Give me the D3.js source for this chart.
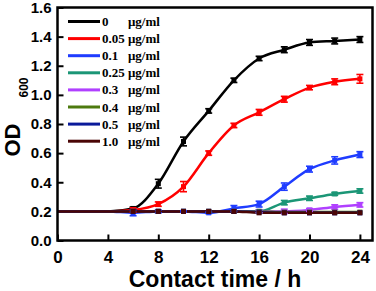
<!DOCTYPE html>
<html>
<head>
  <script src="https://d3js.org/d3.v7.min.js"></script>
  <style>
    body { margin: 0; background: #fff; }
    .tick-label { font-family: Arial, "Liberation Sans", sans-serif; font-weight: bold; }
    .legend-text { font-family: "Liberation Serif", "Times New Roman", serif; font-weight: bold; font-size: 13px; }
  </style>
</head>
<body>
  <script>
    // time points (h)
    var times = [0, 2, 4, 6, 8, 10, 12, 14, 16, 18, 20, 22, 24];

    // concentrations for the legend
    var concLabels = ["0", "0.05", "0.1", "0.25", "0.3", "0.4", "0.5", "1.0"];
    var colors = ["#000000", "#ff0000", "#1f3cff", "#1b9676", "#b040ff", "#4d7a0f", "#0a1a9a", "#4a0505"];

    // OD600 values
    var od0   = [0.20, 0.20, 0.20, 0.22, 0.39, 0.68, 0.89, 1.10, 1.25, 1.31, 1.36, 1.37, 1.38];
    var od005 = [0.20, 0.20, 0.20, 0.21, 0.25, 0.37, 0.60, 0.79, 0.88, 0.97, 1.05, 1.09, 1.11];
    var od01  = [0.20, 0.20, 0.20, 0.19, 0.20, 0.20, 0.19, 0.22, 0.25, 0.37, 0.49, 0.55, 0.59];
    var od025 = [0.20, 0.20, 0.20, 0.20, 0.20, 0.20, 0.20, 0.20, 0.20, 0.26, 0.29, 0.32, 0.34];
    var od03  = [0.20, 0.20, 0.20, 0.20, 0.20, 0.20, 0.20, 0.20, 0.20, 0.20, 0.21, 0.23, 0.245];
    var od04  = [0.20, 0.20, 0.20, 0.20, 0.20, 0.20, 0.20, 0.20, 0.20, 0.195, 0.195, 0.195, 0.195];
    var od05  = [0.20, 0.20, 0.20, 0.20, 0.20, 0.20, 0.20, 0.20, 0.195, 0.19, 0.19, 0.19, 0.19];
    var od10  = [0.20, 0.20, 0.20, 0.20, 0.20, 0.20, 0.20, 0.20, 0.19, 0.19, 0.19, 0.19, 0.19];

    // error bar half-widths
    var err0   = [0, 0, 0, 0.01, 0.03, 0.03, 0.015, 0.015, 0.015, 0.02, 0.02, 0.02, 0.02];
    var err005 = [0, 0, 0, 0.015, 0.015, 0.035, 0.015, 0.015, 0.02, 0.02, 0.015, 0.02, 0.03];
    var err01  = [0, 0, 0, 0.02, 0.01, 0.005, 0.005, 0.02, 0.02, 0.025, 0.02, 0.025, 0.02];
    var err025 = [0, 0, 0, 0, 0, 0, 0, 0, 0.01, 0.015, 0.015, 0.01, 0.015];
    var err03  = [0, 0, 0, 0, 0, 0, 0, 0, 0.01, 0.015, 0.01, 0.015, 0.015];
    var err04  = [0, 0, 0, 0, 0, 0, 0, 0, 0, 0, 0, 0, 0];
    var err05  = [0, 0, 0, 0, 0, 0, 0, 0, 0, 0, 0, 0, 0];
    var err10  = [0, 0, 0, 0, 0, 0, 0, 0, 0, 0, 0, 0, 0];

    var xTicks = [0, 4, 8, 12, 16, 20, 24];
    var yTicks = [0, 0.2, 0.4, 0.6, 0.8, 1.0, 1.2, 1.4, 1.6];

    var seriesVals = [od0, od005, od01, od025, od03, od04, od05, od10];
    var seriesErr = [err0, err005, err01, err025, err03, err04, err05, err10];

    var W = 376, H = 291;
    var mLeft = 57.5, mRight = 372.5, mTop = 7.5, mBottom = 240.5;

    var svg = d3.select("body").append("svg")
      .attr("width", W)
      .attr("height", H);

    var x = d3.scaleLinear().domain([0, 25]).range([mLeft, mRight]);
    var y = d3.scaleLinear().domain([0, 1.6]).range([mBottom, mTop]);

    // ticks (inward)
    var xAxis = svg.append("g").attr("transform", "translate(0," + mBottom + ")")
      .call(d3.axisBottom(x).tickValues(xTicks).tickSize(-6).tickPadding(8).tickFormat(d3.format("d")));
    xAxis.select(".domain").remove();
    xAxis.selectAll("line").attr("stroke", "#000").attr("stroke-width", 2);
    xAxis.selectAll("text").attr("class", "tick-label").style("font-size", "17px").attr("fill", "#000").attr("dy", "0.85em");

    var yAxis = svg.append("g").attr("transform", "translate(" + mLeft + ",0)")
      .call(d3.axisLeft(y).tickValues(yTicks).tickSize(-6).tickPadding(6).tickFormat(d3.format(".1f")));
    yAxis.select(".domain").remove();
    yAxis.selectAll("line").attr("stroke", "#000").attr("stroke-width", 2);
    yAxis.selectAll("text").attr("class", "tick-label").style("font-size", "15px").attr("fill", "#000");

    // series
    var line = d3.line()
      .x(function(d) { return x(d[0]); })
      .y(function(d) { return y(d[1]); })
      .curve(d3.curveMonotoneX);

    seriesVals.forEach(function(vals, i) {
      var pts = times.map(function(t, k) { return [t, vals[k]]; });
      svg.append("path")
        .attr("d", line(pts))
        .attr("fill", "none")
        .attr("stroke", colors[i])
        .attr("stroke-width", 2.5);
    });

    seriesVals.forEach(function(vals, i) {
      var g = svg.append("g").attr("stroke", colors[i]).attr("fill", colors[i]);
      times.forEach(function(t, k) {
        if (t < 6) return;
        var e = seriesErr[i][k];
        if (e > 0) {
          g.append("line").attr("x1", x(t)).attr("x2", x(t))
            .attr("y1", y(vals[k] - e)).attr("y2", y(vals[k] + e)).attr("stroke-width", 1.6);
          [vals[k] - e, vals[k] + e].forEach(function(v) {
            g.append("line").attr("x1", x(t) - 3.5).attr("x2", x(t) + 3.5)
              .attr("y1", y(v)).attr("y2", y(v)).attr("stroke-width", 1.6);
          });
        }
        g.append("rect")
          .attr("x", x(t) - 2.5).attr("y", y(vals[k]) - 2.5)
          .attr("width", 5).attr("height", 5)
          .attr("stroke", "none");
      });
    });

    // frame
    svg.append("rect")
      .attr("x", mLeft).attr("y", mTop)
      .attr("width", mRight - mLeft).attr("height", mBottom - mTop)
      .attr("fill", "none").attr("stroke", "#000").attr("stroke-width", 2.5);

    // legend
    var legend = svg.append("g");
    concLabels.forEach(function(lab, i) {
      var ly = 21.5 + i * 17.1;
      legend.append("line")
        .attr("x1", 68).attr("x2", 100)
        .attr("y1", ly).attr("y2", ly)
        .attr("stroke", colors[i]).attr("stroke-width", 3);
      legend.append("text").attr("class", "legend-text")
        .attr("x", 102).attr("y", ly + 4.5).text(lab);
      legend.append("text").attr("class", "legend-text")
        .attr("x", 128).attr("y", ly + 4.5).text("\u03bcg/ml");
    });

    // axis titles
    svg.append("text").attr("class", "tick-label")
      .attr("x", 215).attr("y", 287)
      .attr("text-anchor", "middle")
      .style("font-size", "23px")
      .text("Contact time / h");

    svg.append("text").attr("class", "tick-label")
      .attr("transform", "translate(19.5,140) rotate(-90)")
      .attr("text-anchor", "middle")
      .style("font-size", "22px")
      .text("OD");
    svg.append("text").attr("class", "tick-label")
      .attr("transform", "translate(27.5,87.5) rotate(-90)")
      .attr("text-anchor", "middle")
      .style("font-size", "12px")
      .text("600");
  </script>
</body>
</html>
